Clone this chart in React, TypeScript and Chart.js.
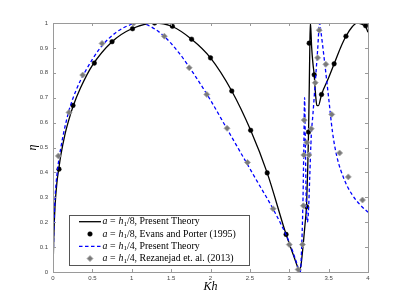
import React, { useEffect, useRef } from "react";
import { Chart, registerables } from "chart.js";

Chart.register(...registerables);

// ---- Data ----
// a = h1/8, Present Theory (solid black curve)
const CURVE_A8_KH = [0, 0.01, 0.025, 0.05, 0.076, 0.1, 0.15, 0.2, 0.254, 0.35, 0.5, 0.75, 1.0, 1.29, 1.5, 1.76, 2.0, 2.27, 2.51, 2.72, 2.96, 3.05, 3.1, 3.125, 3.15, 3.18, 3.2, 3.22, 3.235, 3.245, 3.255, 3.262, 3.268, 3.275, 3.285, 3.3, 3.317, 3.335, 3.35, 3.37, 3.41, 3.5, 3.57, 3.65, 3.72, 3.8, 3.86, 3.92, 3.97, 4.0];
const CURVE_A8_ETA = [0, 0.14, 0.26, 0.36, 0.42, 0.47, 0.55, 0.61, 0.665, 0.74, 0.83, 0.925, 0.977, 1.0, 0.988, 0.935, 0.86, 0.727, 0.569, 0.398, 0.151, 0.07, 0.025, 0.003, 0.03, 0.12, 0.19, 0.27, 0.42, 0.56, 0.76, 0.92, 1.0, 0.97, 0.9, 0.84, 0.79, 0.71, 0.67, 0.668, 0.713, 0.78, 0.836, 0.9, 0.947, 0.985, 1.0, 0.995, 0.985, 0.963];

// a = h1/8, Evans and Porter (1995) (black dots)
const EVANS_KH = [0.076, 0.254, 0.525, 0.75, 1.01, 1.29, 1.516, 1.76, 2.0, 2.27, 2.51, 2.72, 2.96, 3.22, 3.244, 3.253, 3.317, 3.41, 3.57, 3.72, 3.97];
const EVANS_ETA = [0.413, 0.669, 0.839, 0.925, 0.977, 1.0, 0.987, 0.935, 0.86, 0.727, 0.569, 0.398, 0.151, 0.262, 0.562, 0.919, 0.792, 0.713, 0.836, 0.947, 0.989];

// a = h1/4, Present Theory (blue dashed curve)
const CURVE_A4_KH = [0, 0.01, 0.025, 0.05, 0.1, 0.2, 0.3, 0.4, 0.6, 0.8, 1.0, 1.1, 1.2, 1.4, 1.6, 1.8, 2.0, 2.2, 2.4, 2.6, 2.8, 3.0, 3.08, 3.14, 3.16, 3.175, 3.185, 3.195, 3.205, 3.215, 3.23, 3.245, 3.26, 3.28, 3.3, 3.33, 3.36, 3.385, 3.4, 3.45, 3.5, 3.55, 3.6, 3.7, 3.8, 3.9, 4.0];
const CURVE_A4_ETA = [0, 0.16, 0.29, 0.39, 0.5, 0.645, 0.735, 0.8, 0.9, 0.962, 0.995, 1.0, 0.992, 0.95, 0.88, 0.79, 0.69, 0.58, 0.47, 0.36, 0.25, 0.12, 0.05, 0, 0.12, 0.3, 0.5, 0.7, 0.5, 0.3, 0.2, 0.25, 0.38, 0.55, 0.63, 0.76, 0.89, 1.0, 0.97, 0.84, 0.7, 0.56, 0.47, 0.37, 0.31, 0.27, 0.24];

// a = h1/4, Rezanejad et. al. (2013) (grey diamonds)
const REZ_KH = [0.068, 0.203, 0.377, 0.623, 1.025, 1.414, 1.73, 1.953, 2.21, 2.47, 2.795, 3.0, 3.113, 3.168, 3.18, 3.185, 3.19, 3.225, 3.25, 3.28, 3.33, 3.36, 3.38, 3.465, 3.54, 3.64, 3.75, 3.93];
const REZ_ETA = [0.466, 0.641, 0.791, 0.918, 1.0, 0.947, 0.82, 0.713, 0.577, 0.44, 0.254, 0.11, 0.01, 0.11, 0.266, 0.47, 0.61, 0.52, 0.47, 0.575, 0.76, 0.86, 0.971, 0.834, 0.633, 0.478, 0.382, 0.289];

const LABELS = [
  "a = h1/8, Present Theory",
  "a = h1/8, Evans and Porter (1995)",
  "a = h1/4, Present Theory",
  "a = h1/4, Rezanejad et. al. (2013)",
];

const X_TITLE = "Kh";
const Y_TITLE = "η";

const zip = (xs: number[], ys: number[]) => xs.map((x, i) => ({ x, y: ys[i] }));

const AXIS_COLOR = "#9a9a9a";
const SERIF = "'Liberation Serif', 'DejaVu Serif', serif";

function drawMathLabel(ctx: CanvasRenderingContext2D, x: number, y: number, label: string, size: number) {
  const m = label.match(/^(a) = (h)(1)(.*)$/);
  ctx.textBaseline = "middle";
  ctx.textAlign = "left";
  ctx.fillStyle = "#000";
  if (!m) {
    ctx.font = `${size}px ${SERIF}`;
    ctx.fillText(label, x, y);
    return;
  }
  const segs: { t: string; it?: boolean; sub?: boolean }[] = [
    { t: m[1], it: true },
    { t: " = " },
    { t: m[2], it: true },
    { t: m[3], sub: true },
    { t: m[4] },
  ];
  let cx = x;
  for (const s of segs) {
    const fs = s.sub ? size * 0.72 : size;
    ctx.font = `${s.it ? "italic " : ""}${fs}px ${SERIF}`;
    ctx.fillText(s.t, cx, s.sub ? y + size * 0.22 : y);
    cx += ctx.measureText(s.t).width + (s.t === " = " ? 0.5 : 0);
  }
}

const framePlugin = {
  id: "frameAndLegend",
  afterDraw(chart: any) {
    const { ctx, chartArea: a, scales } = chart;
    const xs = scales.x;
    const ys = scales.y;
    ctx.save();
    // Box
    ctx.strokeStyle = AXIS_COLOR;
    ctx.lineWidth = 1;
    ctx.strokeRect(Math.round(a.left) + 0.5, Math.round(a.top) + 0.5, Math.round(a.right - a.left), Math.round(a.bottom - a.top));
    // Inward ticks
    const tl = 3;
    ctx.beginPath();
    xs.ticks.forEach((t: any) => {
      const px = Math.round(xs.getPixelForValue(t.value)) + 0.5;
      ctx.moveTo(px, a.bottom);
      ctx.lineTo(px, a.bottom - tl);
      ctx.moveTo(px, a.top);
      ctx.lineTo(px, a.top + tl);
    });
    ys.ticks.forEach((t: any) => {
      const py = Math.round(ys.getPixelForValue(t.value)) + 0.5;
      ctx.moveTo(a.left, py);
      ctx.lineTo(a.left + tl, py);
      ctx.moveTo(a.right, py);
      ctx.lineTo(a.right - tl, py);
    });
    ctx.stroke();

    // Legend (inside the plot, lower-left)
    const bx = 69.5, by = 215.5, bw = 180, bh = 50;
    ctx.fillStyle = "#fff";
    ctx.fillRect(bx, by, bw, bh);
    ctx.strokeStyle = "#555";
    ctx.strokeRect(bx, by, bw, bh);
    const rows = [221.7, 234, 246.4, 258.6];
    const datasets = chart.data.datasets;
    const legendOrder = [0, 1, 2, 3];
    legendOrder.forEach((di, i) => {
      const ds = datasets[di];
      const yy = rows[i];
      const x0 = 79, x1 = 101, xm = 90;
      if (ds.showLine) {
        ctx.beginPath();
        ctx.strokeStyle = ds.borderColor;
        ctx.lineWidth = ds.borderWidth;
        ctx.setLineDash(ds.borderDash || []);
        ctx.moveTo(x0, yy);
        ctx.lineTo(x1, yy);
        ctx.stroke();
        ctx.setLineDash([]);
      } else {
        ctx.beginPath();
        ctx.fillStyle = ds.backgroundColor;
        ctx.strokeStyle = ds.borderColor;
        ctx.lineWidth = ds.borderWidth;
        const r = ds.pointRadius;
        if (ds.pointStyle === "rectRot") {
          ctx.moveTo(xm, yy - r);
          ctx.lineTo(xm + r, yy);
          ctx.lineTo(xm, yy + r);
          ctx.lineTo(xm - r, yy);
          ctx.closePath();
        } else {
          ctx.arc(xm, yy, r, 0, Math.PI * 2);
        }
        ctx.fill();
        ctx.stroke();
      }
      drawMathLabel(ctx, 102.5, yy, ds.label, 9.9);
    });
    ctx.restore();
  },
};

export default function App() {
  const ref = useRef<HTMLCanvasElement>(null);
  useEffect(() => {
    const canvas = ref.current;
    if (!canvas) return;
    const chart = new Chart(canvas, {
      type: "scatter",
      data: {
        datasets: [
          {
            label: LABELS[0],
            data: zip(CURVE_A8_KH, CURVE_A8_ETA),
            showLine: true,
            borderColor: "#000000",
            backgroundColor: "#000000",
            borderWidth: 1.3,
            pointRadius: 0,
            cubicInterpolationMode: "monotone",
            order: 3,
          },
          {
            label: LABELS[1],
            data: zip(EVANS_KH, EVANS_ETA),
            showLine: false,
            pointStyle: "circle",
            pointRadius: 2.3,
            backgroundColor: "#000000",
            borderColor: "#000000",
            borderWidth: 0.5,
            order: 2,
          },
          {
            label: LABELS[2],
            data: zip(CURVE_A4_KH, CURVE_A4_ETA),
            showLine: true,
            borderColor: "#0000ff",
            backgroundColor: "#0000ff",
            borderWidth: 1.3,
            borderDash: [3.5, 2.5],
            pointRadius: 0,
            cubicInterpolationMode: "monotone",
            order: 1,
          },
          {
            label: LABELS[3],
            data: zip(REZ_KH, REZ_ETA),
            showLine: false,
            pointStyle: "rectRot",
            pointRadius: 3,
            backgroundColor: "#7a7a7a",
            borderColor: "#a8a8a8",
            borderWidth: 0.8,
            order: 0,
          },
        ],
      },
      options: {
        responsive: false,
        animation: false,
        devicePixelRatio: 1,
        layout: { padding: { top: 23, right: 39, left: 0, bottom: 0 } },
        plugins: { legend: { display: false }, tooltip: { enabled: false } },
        scales: {
          x: {
            type: "linear",
            min: 0,
            max: 4,
            border: { display: false },
            grid: { display: false, drawTicks: false },
            ticks: {
              stepSize: 0.5,
              padding: 3,
              color: "#444",
              font: { family: "'Liberation Sans', Arial, sans-serif", size: 6 },
              maxRotation: 0,
              callback: (v: any) => String(Number(Number(v).toFixed(1))),
            },
            title: {
              display: true,
              text: X_TITLE,
              color: "#000",
              font: { family: SERIF, size: 12, style: "italic" },
              padding: { top: 0, bottom: 10.8 },
            },
            afterFit: (s: any) => {
              s.height = 305 - 272;
            },
          },
          y: {
            type: "linear",
            min: 0,
            max: 1,
            border: { display: false },
            grid: { display: false, drawTicks: false },
            ticks: {
              stepSize: 0.1,
              padding: 5,
              color: "#444",
              font: { family: "'Liberation Sans', Arial, sans-serif", size: 6 },
              callback: (v: any) => String(Number(Number(v).toFixed(1))),
            },
            title: {
              display: true,
              text: Y_TITLE,
              color: "#000",
              font: { family: SERIF, size: 12, style: "italic" },
              padding: { top: 26, bottom: 0 },
            },
            afterFit: (s: any) => {
              s.width = 53;
            },
          },
        },
      },
      plugins: [framePlugin],
    } as any);
    return () => chart.destroy();
  }, []);
  return (
    <div style={{ position: "fixed", left: 0, top: 0, width: 407, height: 305, background: "#fff" }}>
      <canvas ref={ref} width={407} height={305} style={{ width: 407, height: 305, display: "block" }} />
    </div>
  );
}
